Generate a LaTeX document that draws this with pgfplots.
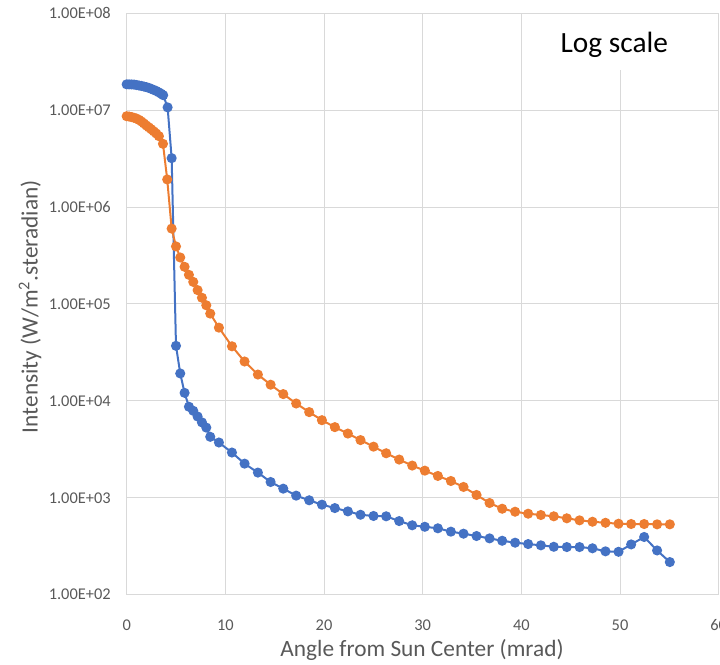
\documentclass[border=0pt]{standalone}
\usepackage{fontspec}
\setmainfont{Carlito}
\usepackage{pgfplots}
\pgfplotsset{compat=1.18}
\usepackage{pgfplotstable}

\definecolor{xlblue}{HTML}{4472C4}
\definecolor{xlorange}{HTML}{ED7D31}
\definecolor{xlgrid}{HTML}{D9D9D9}
\definecolor{xltext}{HTML}{595959}

% angle (mrad), intensity
\pgfplotstableread{
x y
0 1.85e7
0.25 1.848e7
0.5 1.845e7
0.75 1.84e7
1.0 1.82e7
1.25 1.80e7
1.5 1.78e7
1.75 1.755e7
2.0 1.73e7
2.25 1.70e7
2.5 1.66e7
2.75 1.62e7
3.0 1.58e7
3.25 1.53e7
3.5 1.48e7
3.7 1.43e7
4.15 1.07e7
4.56 3.2e6
5.0 3.7e4
5.43 1.92e4
5.87 1.21e4
6.31 8.7e3
6.75 7.9e3
7.19 6.9e3
7.63 6.0e3
8.07 5.3e3
8.47 4.26e3
9.35 3.72e3
10.67 2.93e3
11.95 2.25e3
13.3 1.82e3
14.59 1455
15.87 1242
17.18 1052
18.5 942
19.79 849
21.1 783
22.42 724
23.7 668
25.02 649
26.3 644
27.62 575
28.94 520
30.22 502
31.54 484
32.86 447
34.14 426
35.46 403
36.78 381
38.06 360
39.37 344
40.69 333
41.98 323
43.29 312
44.61 310
45.9 310
47.21 301
48.53 280
49.85 277
51.13 330
52.45 394
53.76 286
55.05 217
}\bluedata

\pgfplotstableread{
x y
0 8.67e6
0.25 8.6e6
0.5 8.5e6
0.75 8.35e6
1.0 8.2e6
1.25 7.95e6
1.5 7.65e6
1.75 7.3e6
2.0 6.95e6
2.25 6.65e6
2.5 6.35e6
2.75 6.05e6
3.0 5.75e6
3.27 5.4e6
3.68 4.5e6
4.11 1.93e6
4.56 6.0e5
5.0 3.93e5
5.43 3.02e5
5.87 2.42e5
6.31 2.0e5
6.75 1.69e5
7.19 1.39e5
7.63 1.16e5
8.07 9.7e4
8.47 7.96e4
9.35 5.7e4
10.67 3.66e4
11.95 2.55e4
13.3 1.87e4
14.59 1.469e4
15.87 11750
17.18 9400
18.5 7660
19.79 6320
21.1 5360
22.42 4600
23.7 3940
25.02 3370
26.3 2880
27.62 2480
28.94 2150
30.22 1905
31.54 1680
32.86 1490
34.14 1294
35.46 1069
36.78 883
38.06 771
39.37 718
40.69 685
41.98 664
43.29 644
44.61 614
45.9 585
47.21 566
48.53 552
49.85 540
51.13 536
52.45 536
53.76 532
55.05 532
}\orangedata

\begin{document}
\begin{tikzpicture}
\begin{axis}[at={(0,0)},anchor=south west,
  scale only axis,width=444bp,height=436bp,
  ymode=log,xmin=0,xmax=60,ymin=1e2,ymax=1e8,
  log basis y=10,
  xtick={0,10,...,60},xticklabels={0,10,20,30,40,50,60},
  ytick={1e2,1e3,1e4,1e5,1e6,1e7,1e8},
  yticklabels={1.00E+02,1.00E+03,1.00E+04,1.00E+05,1.00E+06,1.00E+07,1.00E+08},
  minor tick num=0,yminorticks=false,
  major tick length=0pt,
  grid=major,
  major grid style={draw=xlgrid,line width=0.75bp},
  axis line style={draw=xlgrid,line width=0.75bp},
  axis x line*=bottom,axis y line*=left,
  x axis line style={-},
  y axis line style={-},
  tick label style={font=\fontsize{12.3bp}{14bp}\selectfont,text=xltext},
  xticklabel style={yshift=-15bp},
  yticklabel style={xshift=-8.5bp},
  clip=false,
]
\fill[white] (axis cs:41,10^7.42) rectangle (axis cs:59.6,10^7.99);
\addplot[xlblue,line width=1.5bp,mark=*,mark size=3bp,mark options={fill=xlblue,draw=xlblue}] table[x=x,y=y] {\bluedata};
\addplot[xlorange,line width=1.5bp,mark=*,mark size=3bp,mark options={fill=xlorange,draw=xlorange}] table[x=x,y=y] {\orangedata};
\node[font=\fontsize{22bp}{26bp}\selectfont,text=black] at (axis cs:49.42,4.75e7) {Log scale};
\end{axis}
\node[rotate=90,font=\fontsize{17.5bp}{20bp}\selectfont,text=xltext] at (-72.5bp,216bp) {Intensity (W/m\textsuperscript{2}.steradian)};
\node[font=\fontsize{17.5bp}{20bp}\selectfont,text=xltext] at (221.5bp,-41.5bp) {Angle from Sun Center (mrad)};
\pgfresetboundingbox
\useasboundingbox (-95bp,-52.1bp) rectangle (445bp,446bp);
\end{tikzpicture}
\end{document}
